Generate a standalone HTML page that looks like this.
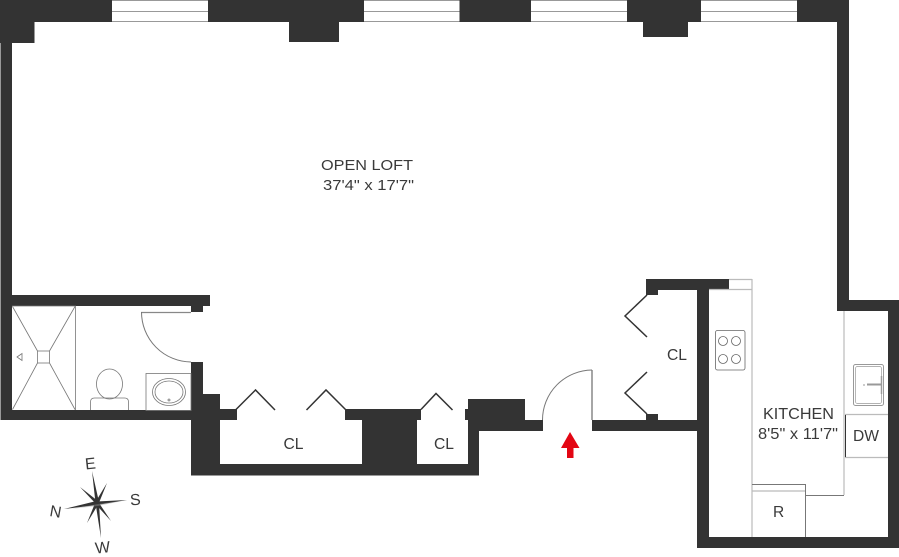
<!DOCTYPE html>
<html><head><meta charset="utf-8"><style>
html,body{margin:0;padding:0;background:#fff}
svg{display:block}
text{font-family:"Liberation Sans",sans-serif;fill:#3a3a3a}
</style></head><body>
<svg width="899" height="557" viewBox="0 0 899 557" xmlns="http://www.w3.org/2000/svg">
<rect width="899" height="557" fill="#fff"/>
<!-- window lines -->
<g stroke="#999" stroke-width="1" fill="none">
<path d="M112 .5H208M112 11.5H208M112 21.5H208"/>
<path d="M364 .5H460M364 11.5H460M364 21.5H460"/>
<path d="M531 .5H627M531 11.5H627M531 21.5H627"/>
<path d="M701 .5H797M701 11.5H797M701 21.5H797"/>
</g>
<!-- walls -->
<g fill="#333">
<rect x="0" y="0" width="112" height="22"/>
<rect x="208" y="0" width="156" height="22"/>
<rect x="459.500" y="0" width="71.500" height="22"/>
<rect x="627" y="0" width="74" height="22"/>
<rect x="797" y="0" width="52" height="22"/>
<rect x="0" y="0" width="34.500" height="43"/>
<rect x="289" y="22" width="50" height="20"/>
<rect x="643" y="22" width="45" height="15"/>
<rect x="0.500" y="0" width="11.500" height="420"/>
<rect x="837" y="0" width="12" height="311"/>
<rect x="837" y="300" width="62" height="11"/>
<rect x="888" y="300" width="11" height="248"/>
<rect x="697" y="537" width="202" height="11"/>
<rect x="697" y="279" width="12" height="269"/>
<rect x="646" y="279" width="83" height="11"/>
<rect x="646" y="290" width="12" height="5"/>
<rect x="646" y="414" width="12" height="6"/>
<rect x="592" y="420" width="106" height="11"/>
<rect x="1" y="295" width="209" height="11"/>
<rect x="191" y="306" width="12" height="6"/>
<rect x="1" y="410" width="190" height="10"/>
<rect x="191" y="362" width="12" height="113"/>
<rect x="203" y="394" width="17" height="70"/>
<rect x="191" y="464" width="288" height="11.500"/>
<rect x="220" y="409" width="17" height="11"/>
<rect x="345" y="409" width="76" height="11"/>
<rect x="362" y="420" width="55" height="44"/>
<rect x="465" y="409" width="4" height="11"/>
<rect x="468" y="399" width="57" height="21"/>
<rect x="468" y="420" width="11" height="55"/>
<rect x="479" y="420" width="64" height="11"/>
</g>
<!-- closet doors -->
<g stroke="#333" stroke-width="1.500" fill="none">
<path d="M236 409.500L255.500 390L275 410"/>
<path d="M306.500 410L326 390L345.500 409.500"/>
<path d="M421 409.500L436 393.500L452.500 410"/>
<path d="M647 295L625 316L647 337"/>
<path d="M647 372L625 393L647 414"/>
</g>
<!-- entry door -->
<path d="M592 370V420" stroke="#888" stroke-width="1.500" fill="none"/>
<path d="M592 370A50 50 0 0 0 542.500 420" stroke="#777" stroke-width="1" fill="none"/>
<!-- bath door -->
<path d="M141 312.500H191" stroke="#888" stroke-width="1.200" fill="none"/>
<path d="M141.500 312A50 50 0 0 0 191 362" stroke="#777" stroke-width="1" fill="none"/>
<!-- shower -->
<g stroke="#777" stroke-width=".8" fill="none">
<path d="M12 306H75.500V410"/>
<rect x="37.500" y="351" width="12" height="12"/>
<path d="M12.500 306.500L37.500 351M75 306.500L49.500 351M12.500 409.500L37.500 363M75 409.500L49.500 363"/>
<path d="M17 357L22 353.500V360.500Z"/>
<!-- toilet -->
<ellipse cx="109.500" cy="384" rx="13" ry="15"/>
<path d="M90.500 410V402Q90.500 398 94.500 398H124.500Q128.500 398 128.500 402V410"/>
<!-- basin -->
<rect x="146" y="373.500" width="45" height="37"/>
<ellipse cx="169" cy="392" rx="16.500" ry="13.500"/>
<ellipse cx="169" cy="392" rx="14" ry="11"/>
<circle cx="169" cy="400" r="1"/>
</g>
<!-- kitchen lines -->
<g stroke="#bbb" stroke-width="1.200" fill="none">
<path d="M729 279.500H752M709 289.500H752"/>
<path d="M752 279V537"/>
<path d="M844 311V495"/>
<path d="M845 414.500H888M845 457.500H888"/>
<path d="M752 491H805"/>
</g>
<g stroke="#777" stroke-width="1" fill="none">
<path d="M752 484.500H805.500V537"/>
<path d="M805.500 495.500H844"/>
</g>
<path d="M845.500 415V457" stroke="#333" stroke-width="1" fill="none"/>
<!-- cooktop -->
<g stroke="#666" stroke-width=".8" fill="none">
<rect x="715.500" y="330.500" width="29.500" height="39.500" rx="2"/>
<circle cx="723" cy="341" r="4.500"/><circle cx="736" cy="341" r="4.500"/>
<circle cx="723" cy="359" r="4.500"/><circle cx="736" cy="359" r="4.500"/>
</g>
<!-- sink -->
<g stroke="#999" fill="none">
<rect x="853.500" y="364.500" width="30" height="41" rx="2" stroke-width="1"/>
<rect x="855.500" y="366.500" width="26" height="37" rx="2" stroke-width=".7"/>
<path d="M867 384.500H881" stroke-width="2"/>
<path d="M881.500 376V394" stroke-width="1.500"/>
<path d="M863 385H865" stroke-width="1"/>
</g>
<!-- arrow -->
<path d="M570 432L579.500 448H573.500V458H567V448H561Z" fill="#e30613"/>
<!-- compass -->
<g fill="#333">
<path d="M92 471L99 502L95.500 503Z"/>
<path d="M127 500L97 505L96.500 501.500Z"/>
<path d="M101 538L95.500 503L99 503Z"/>
<path d="M64 509L96.500 501L97.500 505Z"/>
<path d="M80 487L98.500 501.500L96 504Z"/>
<path d="M107 483L98.500 504L95.500 502Z"/>
<path d="M111 521L95.500 504L98 501.500Z"/>
<path d="M87 523L95.500 502L98.500 504Z"/>
</g>
<path d="M70 509L98 506L127 500L98 504Z" fill="#999" opacity=".4"/>
<!-- labels -->
<text x="321" y="170" font-size="15" textLength="92" lengthAdjust="spacingAndGlyphs">OPEN LOFT</text>
<text x="323" y="190" font-size="15" textLength="91" lengthAdjust="spacingAndGlyphs">37'4" x 17'7"</text>
<text x="763" y="419" font-size="15.500" textLength="71" lengthAdjust="spacingAndGlyphs">KITCHEN</text>
<text x="758" y="439" font-size="15.500" textLength="80" lengthAdjust="spacingAndGlyphs">8'5" x 11'7"</text>
<text x="853" y="441" font-size="15.500" textLength="26" lengthAdjust="spacingAndGlyphs">DW</text>
<text x="773" y="517" font-size="15.500">R</text>
<text x="283.500" y="449" font-size="15.500" textLength="20" lengthAdjust="spacingAndGlyphs">CL</text>
<text x="434" y="449" font-size="15.500" textLength="20" lengthAdjust="spacingAndGlyphs">CL</text>
<text x="667" y="360" font-size="15.500" textLength="20" lengthAdjust="spacingAndGlyphs">CL</text>
<text x="85" y="469" font-size="16" transform="rotate(-6 90 463)">E</text>
<text x="130" y="505" font-size="16" transform="rotate(-4 135 499)">S</text>
<text x="95" y="553" font-size="16" transform="rotate(-6 101 547)">W</text>
<text x="50" y="517" font-size="16" transform="rotate(10 56 511)">N</text>
</svg>
</body></html>
